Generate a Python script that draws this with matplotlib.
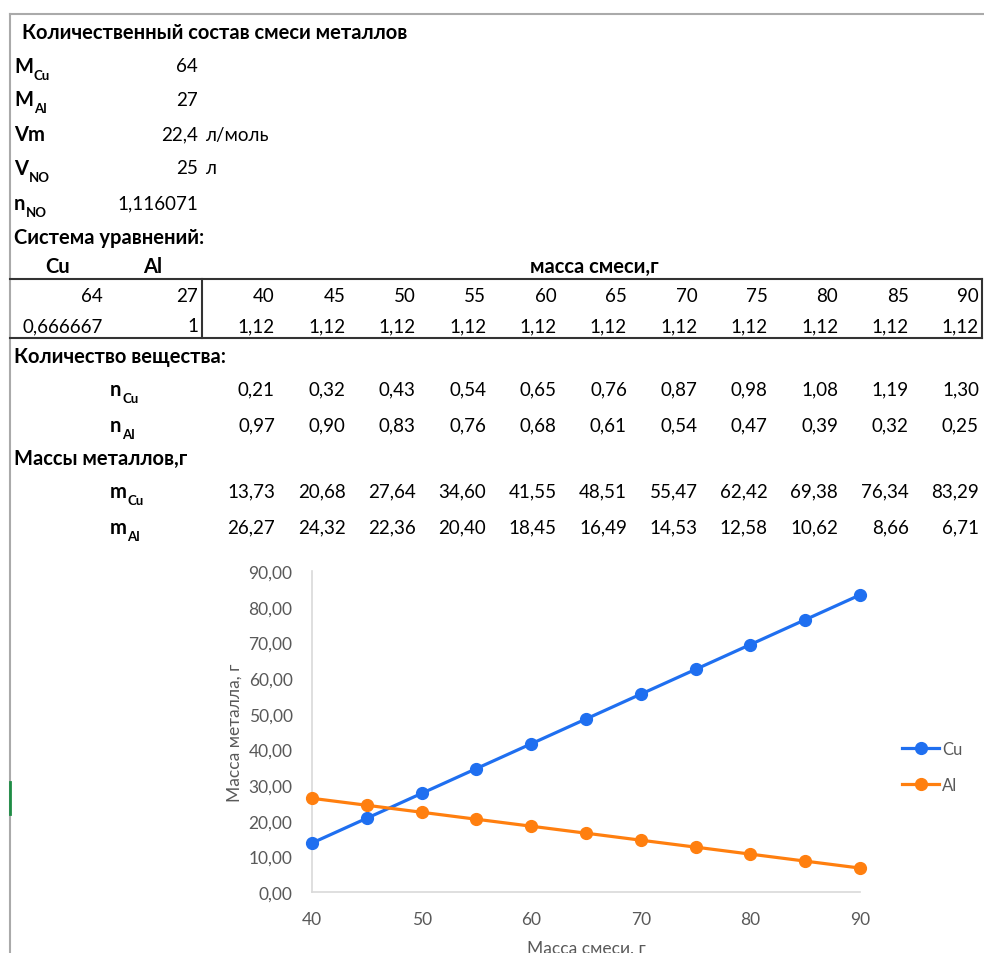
import matplotlib
matplotlib.use("Agg")
import matplotlib.pyplot as plt
from matplotlib.ticker import FuncFormatter

plt.rcParams['font.family'] = ['Lato', 'DejaVu Sans']

# исходные данные
params = [("M", "Cu", "64", ""), ("M", "Al", "27", ""), ("Vm", "", "22,4", "л/моль"),
          ("V", "NO", "25", "л"), ("n", "NO", "1,116071", "")]
system_cu = ["64", "0,666667"]
system_al = ["27", "1"]
mix_mass = [40, 45, 50, 55, 60, 65, 70, 75, 80, 85, 90]
n_total = [1.12] * 11
n_cu = [0.21, 0.32, 0.43, 0.54, 0.65, 0.76, 0.87, 0.98, 1.08, 1.19, 1.30]
n_al = [0.97, 0.90, 0.83, 0.76, 0.68, 0.61, 0.54, 0.47, 0.39, 0.32, 0.25]
m_cu = [13.73, 20.68, 27.64, 34.60, 41.55, 48.51, 55.47, 62.42, 69.38, 76.34, 83.29]
m_al = [26.27, 24.32, 22.36, 20.40, 18.45, 16.49, 14.53, 12.58, 10.62, 8.66, 6.71]

FS = 13.5
FS_B = 14.5
SUB = 9.5
BLUE = "#1f6ff0"
ORANGE = "#ff7f0f"


def fmt(v, d=2):
    return f"{v:.{d}f}".replace(".", ",")


fig = plt.figure(figsize=(9.84, 9.54), dpi=100)
bg = fig.add_axes([0, 0, 1, 1])
bg.set_xlim(0, 984)
bg.set_ylim(954, 0)
bg.axis("off")


def put(x, y, s, ha="left", bold=False):
    return bg.text(x, y, s, ha=ha, va="center", fontsize=FS_B if bold else FS,
                   fontweight="bold" if bold else "normal", color="black")


def put_sub(x, y, main, sub):
    t = put(x, y, main, bold=True)
    if sub:
        bg.annotate(sub, xy=(1, 0.05), xycoords=t, xytext=(0.5, 0), textcoords="offset points",
                    fontsize=SUB, fontweight="bold", va="center", ha="left")


# рамка листа
bg.plot([10, 984], [15, 15], color="#aaaaaa", lw=1.5)
bg.plot([10, 10], [15, 954], color="#aaaaaa", lw=1.5)
bg.plot([10, 10], [783, 815], color="#1e8c45", lw=2)

put(22, 33, "Количественный состав смеси металлов", bold=True)
rows_y = [67, 100, 135, 169, 204]
for (main, sub, val, unit), y in zip(params, rows_y):
    put_sub(14, y, main, sub)
    put(198, y, val, ha="right")
    if unit:
        put(205, y, unit)

put(14, 238, "Система уравнений:", bold=True)
put(58, 267, "Cu", ha="center", bold=True)
put(153, 267, "Al", ha="center", bold=True)
put(594, 267, "масса смеси,г", ha="center", bold=True)

bg.plot([10, 982], [280, 280], color="#333333", lw=1.5)
bg.plot([10, 982], [339, 339], color="#333333", lw=1.5)
bg.plot([201.5, 201.5], [280, 339], color="#333333", lw=1.5)
bg.plot([982, 982], [280, 339], color="#333333", lw=1.5)

col_x = [275 + i * 70.4 for i in range(len(mix_mass))]
for y, a, b in zip([297, 327], system_cu, system_al):
    put(103, y, a, ha="right")
    put(198, y, b, ha="right")
for x, m, n in zip(col_x, mix_mass, n_total):
    put(x, 297, str(m), ha="right")
    put(x, 327, fmt(n), ha="right")

put(14, 357, "Количество вещества:", bold=True)
put(14, 459, "Массы металлов,г", bold=True)
for y, main, sub, vals in [(390, "n", "Cu", n_cu), (426, "n", "Al", n_al),
                           (492, "m", "Cu", m_cu), (528, "m", "Al", m_al)]:
    put_sub(110, y, main, sub)
    for x, v in zip(col_x, vals):
        put(x, y, fmt(v), ha="right")

# график
W, H = 984, 954
ax = fig.add_axes([312 / W, (H - 893) / H, (860 - 312) / W, (893 - 572) / H])
ax.plot(mix_mass, m_cu, color=BLUE, lw=2.3, marker="o", ms=8.5, label="Cu", clip_on=False, zorder=3)
ax.plot(mix_mass, m_al, color=ORANGE, lw=2.3, marker="o", ms=8.5, label="Al", clip_on=False, zorder=3)
ax.set_xlim(40, 90)
ax.set_ylim(0, 90)
ax.set_xticks(range(40, 91, 10))
ax.set_yticks(range(0, 91, 10))
ax.yaxis.set_major_formatter(FuncFormatter(lambda v, p: fmt(v)))
for s in ["top", "right"]:
    ax.spines[s].set_visible(False)
for s in ["left", "bottom"]:
    ax.spines[s].set_color("#d9d9d9")
    ax.spines[s].set_linewidth(1.2)
ax.tick_params(length=0, colors="#595959", labelsize=12.5)
ax.tick_params(axis="x", pad=14)
ax.tick_params(axis="y", pad=14)
ax.set_xlabel("Масса смеси, г", color="#595959", fontsize=12.5, labelpad=9)
ax.set_ylabel("Масса металла, г", color="#595959", fontsize=12.5, labelpad=4)
ax.legend(loc="center left", bbox_to_anchor=(1.05, 0.39), frameon=False, fontsize=12,
          labelcolor="#595959", handlelength=2.2, handletextpad=0.2, labelspacing=1.2)

fig.savefig("out.png", dpi=100)
